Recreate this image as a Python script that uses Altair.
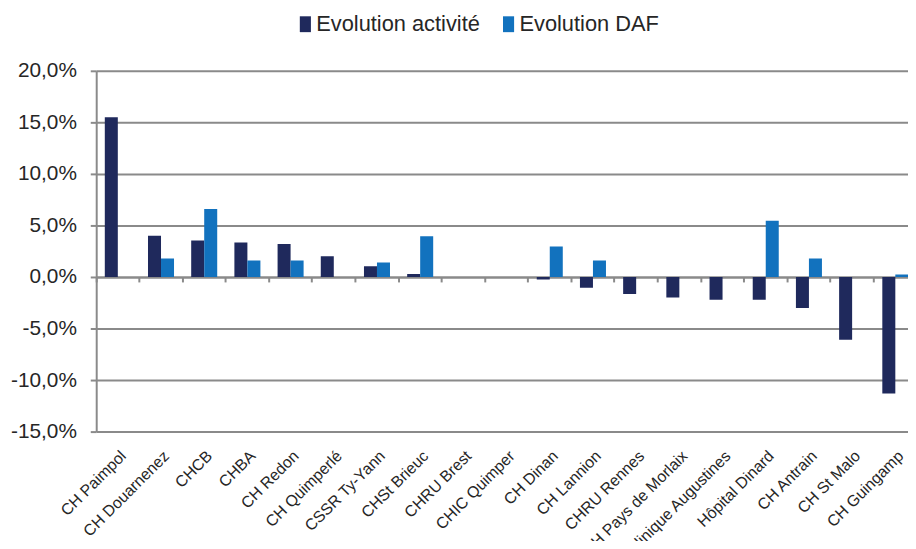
import altair as alt
import pandas as pd

categories = ["CH Paimpol", "CH Douarnenez", "CHCB", "CHBA", "CH Redon", "CH Quimperlé",
              "CSSR Ty-Yann", "CHSt Brieuc", "CHRU Brest", "CHIC Quimper", "CH Dinan",
              "CH Lannion", "CHRU Rennes", "CH Pays de Morlaix", "Clinique Augustines",
              "Hôpital  Dinard", "CH Antrain", "CH St Malo", "CH Guingamp"]
activite = [15.5, 4.0, 3.55, 3.35, 3.2, 2.0, 1.05, 0.3, 0.0, 0.0, -0.25, -1.05,
            -1.65, -2.0, -2.2, -2.2, -3.0, -6.1, -11.3]
daf = [0.0, 1.8, 6.6, 1.6, 1.6, 0.0, 1.4, 3.95, 0.0, 0.0, 2.95, 1.6,
       0.0, 0.0, 0.0, 5.45, 1.8, 0.0, 0.25]
series = ["Evolution activité", "Evolution DAF"]
colors = ["#1f295c", "#1272be"]
y_ticks = [-15, -10, -5, 0, 5, 10, 15, 20]

rows = []
for i, c in enumerate(categories):
    rows.append({"cat": c, "serie": series[0], "v": activite[i]})
    rows.append({"cat": c, "serie": series[1], "v": daf[i]})
df = pd.DataFrame(rows)

FONT = "Liberation Sans"
GRID = "#8a8a8a"
TXT = "#262626"

xscale = alt.Scale(domain=categories, range=[0, 828], paddingInner=0, paddingOuter=0)
yscale = alt.Scale(domain=[-15, 20], nice=False, zero=False)
y_axis = alt.Axis(title=None, values=y_ticks,
                  labelExpr="(datum.value < 0 ? '-' : '') + replace(format(abs(datum.value), '.1f'), '.', ',') + '%'",
                  grid=True, gridColor=GRID, gridWidth=2,
                  domainColor=GRID, domainWidth=2, tickColor=GRID, tickWidth=2,
                  tickSize=6, labelPadding=14, labelFontSize=21, labelFont=FONT,
                  labelColor=TXT)

bars = alt.Chart(df).mark_bar(clip=True).encode(
    x=alt.X("cat:N", scale=xscale, sort=categories,
            axis=alt.Axis(title=None, orient="bottom", labelAngle=-45, labelAlign="right",
                          labelBaseline="top", labelPadding=16, labelFontSize=16,
                          labelFont=FONT, labelColor=TXT, ticks=False, domain=False,
                          labelOverlap=False, labelLimit=400)),
    xOffset=alt.XOffset("serie:N", sort=series,
                        scale=alt.Scale(paddingOuter=0.66, paddingInner=0)),
    y=alt.Y("v:Q", scale=yscale, axis=y_axis),
    color=alt.Color("serie:N", scale=alt.Scale(domain=series, range=colors),
                    legend=alt.Legend(title=None, orient="none", legendX=200, legendY=-58,
                                      direction="horizontal",
                                      symbolType="M-0.7,-1H0.7V1H-0.7Z",
                                      symbolSize=256, symbolStrokeWidth=0,
                                      labelFontSize=22, labelFont=FONT, labelColor=TXT,
                                      labelLimit=400, columnPadding=17, labelOffset=0)),
)

zero_axis = alt.Chart(df).mark_tick(opacity=0).encode(
    x=alt.X("cat:N", scale=xscale, sort=categories,
            axis=alt.Axis(title=None, orient="bottom", labels=False, domain=True,
                          domainColor=GRID, domainWidth=2, ticks=True, bandPosition=0,
                          tickSize=5, tickColor=GRID, tickWidth=2, offset=-156,
                          grid=False)),
    y=alt.Y("v:Q", scale=yscale, axis=y_axis),
)

chart = alt.layer(bars, zero_axis).resolve_axis(x="independent").properties(
    width=819, height=364,
    autosize=alt.AutoSizeParams(type="none"),
    padding={"left": 89, "top": 61, "right": 0, "bottom": 108},
    background="white",
).configure_view(stroke=None)

chart.save("out.html", embed_options={"renderer": "svg", "actions": False})
